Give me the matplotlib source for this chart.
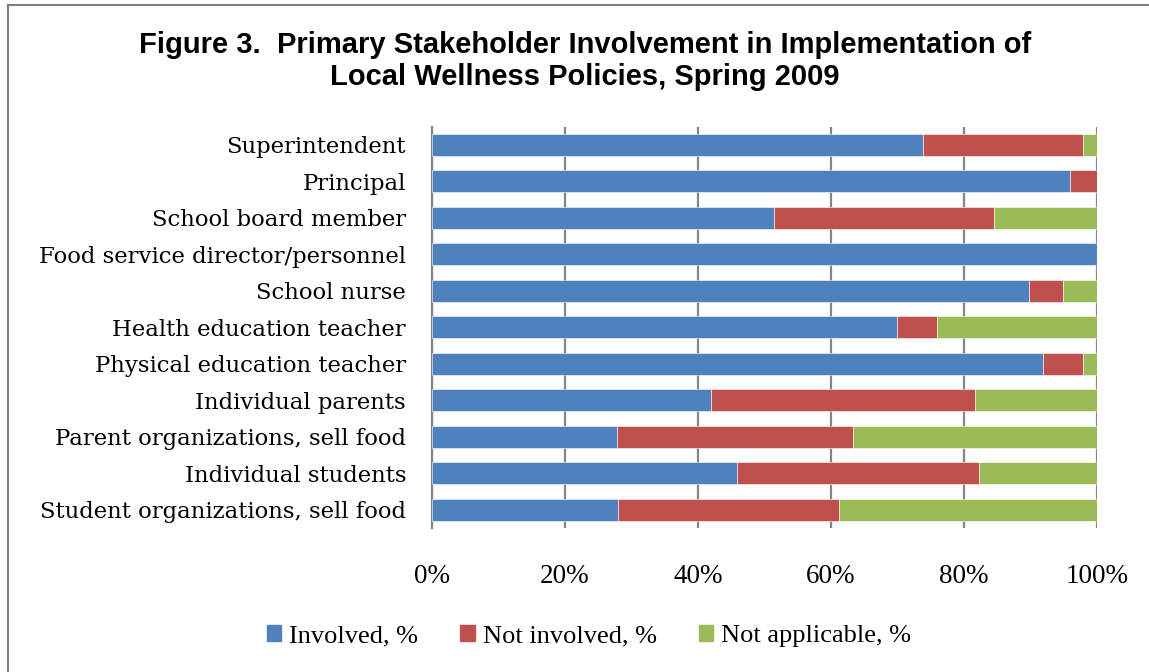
import matplotlib
matplotlib.use("Agg")
import matplotlib.pyplot as plt
import numpy as np
from matplotlib.patches import Rectangle
from matplotlib.lines import Line2D

stakeholders = [
    "Superintendent",
    "Principal",
    "School board member",
    "Food service director/personnel",
    "School nurse",
    "Health education teacher",
    "Physical education teacher",
    "Individual parents",
    "Parent organizations, sell food",
    "Individual students",
    "Student organizations, sell food",
]
involved = [73.9, 96.0, 51.5, 100.0, 89.8, 69.9, 91.9, 42.0, 27.8, 45.8, 27.9]
not_involved = [24.0, 4.0, 33.0, 0.0, 5.1, 6.1, 6.0, 39.7, 35.5, 36.4, 33.3]
not_applicable = [2.1, 0.0, 15.5, 0.0, 5.1, 24.0, 2.1, 18.3, 36.7, 17.8, 38.8]

series_names = ["Involved, %", "Not involved, %", "Not applicable, %"]
series_colors = ["#4F81BD", "#C0504D", "#9BBB59"]
x_ticks = [0, 20, 40, 60, 80, 100]
x_tick_labels = ["0%", "20%", "40%", "60%", "80%", "100%"]

W, H = 1149, 672
fig = plt.figure(figsize=(W / 100, H / 100), dpi=100)
fig.patch.set_facecolor("white")

serif = ["Liberation Serif", "DejaVu Serif"]
label_serif = ["DejaVu Serif"]

ax = fig.add_axes([432 / W, 1 - 528 / H, (1097 - 432) / W, (528 - 126.5) / H])

y = np.arange(len(stakeholders))
left = np.zeros(len(stakeholders))
for vals, color, name in zip([involved, not_involved, not_applicable], series_colors, series_names):
    vals = np.array(vals)
    ax.barh(y, vals, left=left, height=0.6, color=color, edgecolor="white",
            linewidth=0.4, label=name, zorder=3)
    left += vals

ax.set_xlim(0, 100)
ax.set_ylim(len(stakeholders) - 0.5, -0.5)
ax.set_xticks(x_ticks)
ax.set_xticklabels(x_tick_labels, fontfamily=serif, fontsize=19.5)
ax.set_yticks(y)
ax.set_yticklabels(stakeholders, fontfamily=label_serif, fontsize=16.4)
ax.tick_params(axis="both", length=0)
ax.tick_params(axis="x", pad=26)
ax.tick_params(axis="y", pad=18.7)
ax.xaxis.grid(True, color="#868686", linewidth=1.6, zorder=0)
for side in ["top", "right", "bottom"]:
    ax.spines[side].set_visible(False)
ax.spines["left"].set_color("#868686")
ax.spines["left"].set_linewidth(1.6)

fig.text(585 / W, 1 - 45 / H, "Figure 3.  Primary Stakeholder Involvement in Implementation of",
         ha="center", va="center", fontsize=21, fontweight="bold", fontfamily="Liberation Sans")
fig.text(585 / W, 1 - 77 / H, "Local Wellness Policies, Spring 2009",
         ha="center", va="center", fontsize=21, fontweight="bold", fontfamily="Liberation Sans")

handles = [Rectangle((0, 0), 1, 1, color=c) for c in series_colors]
fig.legend(handles, series_names, loc="center", bbox_to_anchor=(589 / W, 1 - 636 / H),
           ncol=3, frameon=False, prop={"family": serif, "size": 19},
           handlelength=0.55, handleheight=0.55, handletextpad=0.3, columnspacing=1.6)

# outer frame of the figure
fig.add_artist(Line2D([8 / W, 8 / W], [0, 1 - 5 / H], transform=fig.transFigure,
                      color="#7f7f7f", linewidth=1.5))
fig.add_artist(Line2D([8 / W, 1], [1 - 5 / H, 1 - 5 / H], transform=fig.transFigure,
                      color="#7f7f7f", linewidth=1.5))

fig.savefig("out.png", dpi=100)
